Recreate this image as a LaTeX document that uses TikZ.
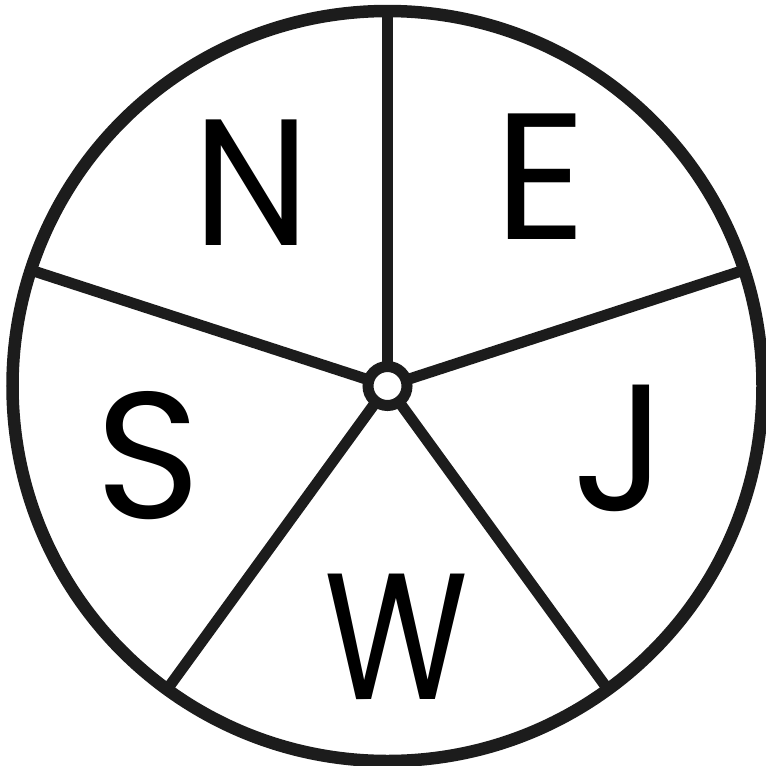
\documentclass[tikz,border=0pt]{standalone}
\usepackage{fontspec}
\setmainfont{Poppins}
\definecolor{ink}{HTML}{1C1C1C}
\begin{document}
\begin{tikzpicture}[x=1pt,y=-1pt,
  rim/.style={draw=ink,line width=12.5pt},
  spoke/.style={draw=ink,line width=11pt},
  hub/.style={circle,draw=ink,fill=white,line width=11pt,minimum size=39pt,inner sep=0pt},
  lab/.style={inner sep=0pt,anchor=center,font=\fontsize{180}{200}\selectfont}]
\useasboundingbox (0,0) rectangle (766,766);
\coordinate (c) at (387.5,386);
\draw[rim] (c) circle[radius=375];
\foreach \a [count=\i] in {90,18,-54,-126,162}{
  \coordinate (e\i) at ({387.5+375*cos(\a)},{386-375*sin(\a)});
  \draw[spoke] (c) -- (e\i);
}
\node[hub] (h) at (c) {};
\node[lab,xscale=0.92] (N) at (252,183) {N};
\node[lab] (E) at (541,177) {E};
\node[lab] (J) at (620,448) {J};
\node[lab,xscale=0.82] (W) at (397,637) {W};
\node[lab] (S) at (148,456) {S};
\end{tikzpicture}
\end{document}
